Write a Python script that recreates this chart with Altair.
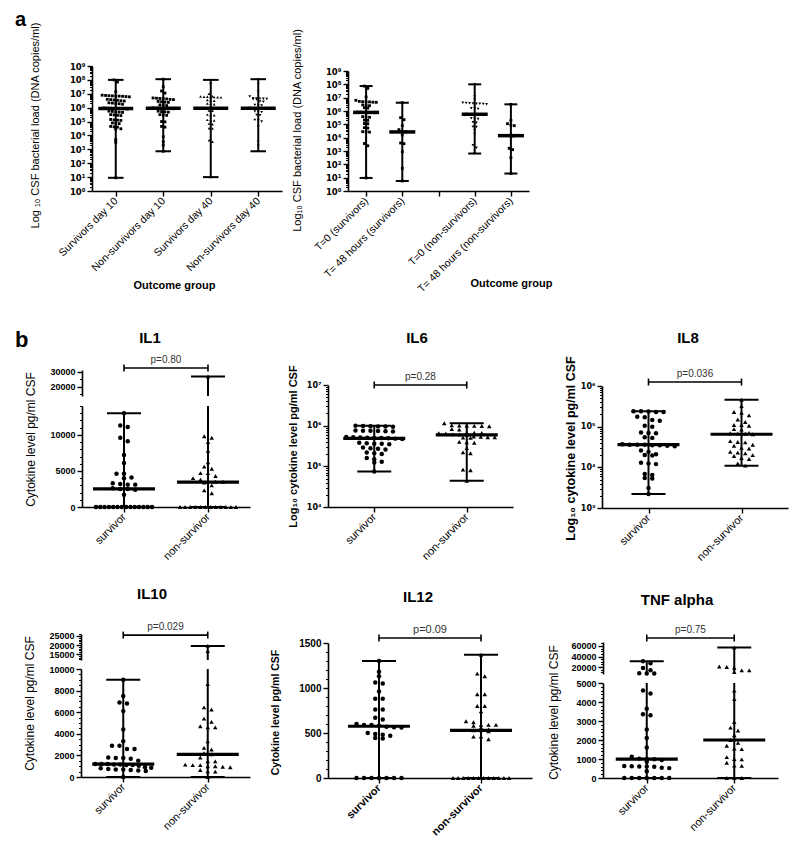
import json
import altair as alt
import numpy as np
import pandas as pd

# ---------------------------------------------------------------- data
# Panel a (left) - log10 CSF bacterial load (DNA copies/ml)
A1_GROUPS = ["Survivors day 10", "Non-survivors day 10", "Survivors day 40", "Non-survivors day 40"]
A1_SURV_D10_LOG = [8.0, 7.85, 7.15, 6.9, 6.88, 6.86, 6.85, 6.84, 6.83, 6.82, 6.8, 6.78, 6.6, 6.58, 6.55,
                   6.53, 6.5, 6.48, 6.35, 6.33, 6.3, 6.28, 6.25, 5.98, 5.97, 5.96, 5.95, 5.94, 5.93, 5.92,
                   5.9, 5.75, 5.73, 5.7, 5.68, 5.66, 5.5, 5.48, 5.45, 5.43, 5.15, 5.12, 5.1, 5.08, 4.9,
                   4.88, 4.85, 4.65, 4.62, 4.6, 4.48, 4.45, 3.7, 3.5, 0.95]
A1_NONSURV_D10_LOG = [8.05, 7.5, 7.2, 7.05, 6.7, 6.68, 6.66, 6.65, 6.63, 6.6, 6.58, 6.45, 6.43, 6.4, 6.38,
                      6.2, 6.18, 6.15, 5.98, 5.97, 5.96, 5.95, 5.94, 5.93, 5.92, 5.75, 5.72, 5.7, 5.68,
                      5.5, 5.47, 5.45, 5.0, 4.98, 4.65, 4.6, 3.9, 3.55, 3.3, 2.86]
A1_SURV_D40_LOG = [8.0, 7.8, 7.0, 6.82, 6.8, 6.79, 6.78, 6.77, 6.76, 6.75, 6.74, 6.55, 6.53, 6.5, 6.3,
                   6.28, 6.25, 5.98, 5.97, 5.96, 5.95, 5.94, 5.93, 5.92, 5.8, 5.78, 5.5, 5.47, 5.45,
                   5.12, 5.1, 5.08, 4.85, 4.8, 4.52, 4.5, 3.65, 3.55, 1.0]
A1_NONSURV_D40_LOG = [8.05, 7.7, 7.15, 6.8, 6.68, 6.66, 6.65, 6.64, 6.62, 6.6, 6.58, 6.45, 6.43, 6.2,
                      6.18, 6.16, 5.97, 5.96, 5.95, 5.94, 5.93, 5.92, 5.72, 5.7, 5.68, 5.48, 5.46,
                      5.12, 5.1, 5.0, 4.65, 3.55, 3.25, 2.86]

# Panel a (right)
A2_GROUPS = ["T=0 (survivors)", "T= 48 hours (survivors)", "", "T=0 (non-survivors)",
             "T= 48 hours (non-survivors)"]
A2_T0_SURV_LOG = [7.87, 7.7, 7.05, 6.8, 6.72, 6.7, 6.69, 6.68, 6.66, 6.65, 6.45, 6.43, 6.4, 6.25, 6.22,
                  5.92, 5.91, 5.9, 5.89, 5.88, 5.87, 5.58, 5.55, 5.53, 5.32, 5.3, 5.06, 5.04, 4.75,
                  4.72, 4.45, 4.43, 4.42, 3.56, 3.39, 0.98]
A2_T48_SURV_LOG = [6.62, 5.5, 5.35, 4.9, 4.6, 4.45, 4.43, 4.2, 3.6, 3.55, 2.95, 1.7, 0.75]
A2_T0_NONSURV_LOG = [8.0, 7.1, 6.85, 6.62, 6.6, 6.58, 6.57, 6.55, 6.54, 6.52, 6.5, 6.2, 6.18, 6.16,
                     5.77, 5.76, 5.75, 5.74, 5.73, 5.72, 5.45, 5.43, 5.4, 5.15, 5.12, 4.82, 4.8, 4.55,
                     4.27, 3.43, 3.25, 2.81]
A2_T48_NONSURV_LOG = [6.5, 5.3, 5.05, 4.95, 4.9, 4.15, 4.13, 3.2, 3.1, 2.5, 1.31]

# Panel b - cytokine levels (pg/ml CSF)
CYTO_GROUPS = ["survivor", "non-survivor"]
IL1_SURV = [13000, 11300, 11100, 9600, 9100, 7200, 6100, 4600, 4600, 4100, 4000, 3300, 3200, 3100, 3100,
            2600, 2500, 2500, 2400, 1700] + [0] * 14
IL1_NONSURV = [27000, 9800, 9600, 9000, 7800, 6200, 5600, 5300, 4700, 4700, 4300, 4000, 3800, 3600,
               3500, 3500, 3400, 3000, 2300, 1900] + [0] * 12
IL6_SURV = [1.0e6, 9.8e5, 9.6e5, 9.5e5, 9.7e5, 9.4e5, 7.6e5, 7.5e5, 7.4e5, 7.3e5, 7.2e5, 7.5e5, 5.3e5,
            5.2e5, 5.1e5, 5.05e5, 5.0e5, 4.95e5, 4.9e5, 4.8e5, 4.7e5, 3.8e5, 3.7e5, 3.6e5, 3.6e5, 3.5e5,
            2.9e5, 2.8e5, 2.7e5, 2.6e5, 2.2e5, 2.1e5, 2.0e5, 1.6e5, 1.5e5, 1.3e5, 1.25e5, 7.5e4]
IL6_NONSURV = [1.15e6, 1.02e6, 1.0e6, 0.99e6, 0.98e6, 1.01e6, 0.97e6, 8.2e5, 8.0e5, 6.8e5, 6.7e5, 6.6e5,
               6.5e5, 6.4e5, 6.1e5, 6.0e5, 5.9e5, 5.4e5, 5.3e5, 5.2e5, 5.2e5, 5.1e5, 5.0e5, 4.0e5, 3.9e5,
               3.8e5, 2.8e5, 2.2e5, 2.1e5, 8.3e4, 8.0e4, 4.4e4]
IL8_SURV = [2.4e5, 2.35e5, 2.3e5, 2.3e5, 2.4e5, 1.75e5, 1.7e5, 1.45e5, 1.4e5, 1.05e5, 1.0e5, 7.2e4, 7.0e4,
            6.9e4, 5.5e4, 5.3e4, 3.7e4, 3.6e4, 3.6e4, 3.6e4, 3.5e4, 3.5e4, 3.4e4, 3.3e4, 2.6e4, 2.4e4,
            2.1e4, 2.0e4, 1.95e4, 1.3e4, 1.25e4, 1.2e4, 6.9e3, 6.5e3, 5.5e3, 5.3e3, 3.1e3, 2.2e3]
IL8_NONSURV = [4.6e5, 3.2e5, 2.3e5, 2.2e5, 1.9e5, 1.5e5, 1.3e5, 1.1e5, 1.1e5, 1.05e5, 8.7e4, 8.5e4,
               7.0e4, 6.9e4, 6.7e4, 6.5e4, 6.8e4, 4.4e4, 4.2e4, 4.1e4, 3.6e4, 3.4e4, 3.0e4, 2.9e4,
               2.4e4, 2.3e4, 2.2e4, 2.0e4, 1.9e4, 1.7e4, 1.6e4, 1.25e4, 1.1e4]
IL10_SURV = [9000, 7500, 6900, 6800, 6100, 4400, 3300, 2900, 2900, 2600, 2600, 1800, 1750, 1750, 1700,
             1500, 1200, 1200, 1200, 1150, 1150, 1100, 1100, 1050, 900, 850, 800, 750, 700, 700, 650,
             600, 550, 0]
IL10_NONSURV = [19500, 16700, 8600, 6450, 6250, 5400, 5100, 4700, 4600, 4600, 3300, 2700, 2550, 2200,
                2100, 1800, 1450, 1450, 1150, 1100, 1100, 1000, 1000, 950, 900, 650, 520, 500, 0]
IL12_SURV = [1300, 1180, 1130, 1060, 1050, 960, 880, 880, 760, 760, 670, 650, 600, 590, 590, 580, 570,
             565, 560, 500, 490, 480, 470, 445, 440] + [0] * 7
IL12_NONSURV = [1370, 1160, 1130, 930, 930, 800, 800, 740, 630, 620, 590, 590, 590, 580, 560, 540, 530,
                530, 520, 460, 460, 430] + [0] * 12
TNF_SURV = [31000, 27000, 18000, 14000, 8000, 7800, 7600, 4600, 4450, 3650, 3350, 3300, 2550, 2100, 1600,
            1120, 1020, 1000, 990, 950, 850, 630, 620, 610, 600, 590, 540, 520, 350] + [0] * 7
TNF_NONSURV = [57000, 21000, 20000, 18700, 13500, 13500, 10500, 4600, 4150, 2950, 2650, 2500, 2250, 2000,
               1850, 1700, 1550, 1520, 1100, 1000, 980, 800, 660, 640, 0, 0, 0]

P_VALUES = {"IL1": "p=0.80", "IL6": "p=0.28", "IL8": "p=0.036",
            "IL10": "p=0.029", "IL12": "p=0.09", "TNF": "p=0.75"}

# ---------------------------------------------------------------- layout
W, H = 784, 830
FONT = "Liberation Sans"
SUP_FONT = "DejaVu Sans"
SUP = ["⁰", "¹", "²", "³", "⁴", "⁵", "⁶", "⁷", "⁸", "⁹"]
POW_EXPR = "'10' + " + json.dumps(SUP, ensure_ascii=False) + "[round(log(datum.value)/LN10)]"


def to_px(v, dom, rng, log):
    v = np.asarray(v, dtype=float)
    if log:
        t = (np.log10(v) - np.log10(dom[0])) / (np.log10(dom[1]) - np.log10(dom[0]))
    else:
        t = (v - dom[0]) / (dom[1] - dom[0])
    return rng[0] + t * (rng[1] - rng[0])


def from_px(p, dom, rng, log):
    t = (p - rng[0]) / (rng[1] - rng[0])
    if log:
        return float(10 ** (np.log10(dom[0]) + t * (np.log10(dom[1]) - np.log10(dom[0]))))
    return float(dom[0] + t * (dom[1] - dom[0]))


def swarm(ypix, binh, s0, wmax):
    """GraphPad-like scatter: points within one row height are spread horizontally."""
    ypix = np.asarray(ypix, dtype=float)
    order = np.argsort(ypix, kind="stable")
    offs = np.zeros(len(ypix))
    rows, cur = [], []
    for i in order:
        if cur and ypix[i] - ypix[cur[0]] > binh:
            rows.append(cur)
            cur = []
        cur.append(i)
    if cur:
        rows.append(cur)
    for row in rows:
        k = len(row)
        s = s0 if k < 2 else min(s0, wmax / (k - 1))
        for j, i in enumerate(row):
            offs[i] = (j - (k - 1) / 2) * s
    return offs


def log_minor(k0, k1):
    return [m * 10 ** k for k in range(k0, k1) for m in range(2, 10)]


def build_panel(P):
    groups = P["groups"]
    ng = len(groups)
    x0, x1 = P["xr"]
    band = (x1 - x0) / ng
    xsc = alt.Scale(domain=[-0.5, ng - 0.5], range=[x0, x1], nice=False, zero=False)
    segs = P["segs"]
    nseg = len(segs)
    bounds = [-np.inf] + [segs[i]["dom"][1] for i in range(nseg - 1)] + [np.inf]
    binh, s0, wmax = P["swarm"]
    yb = segs[0]["rng"][0]

    xkw = dict(
        orient="bottom", offset=yb - H, values=list(range(ng)),
        labelExpr=json.dumps(groups) + "[datum.value]",
        labelAngle=-45, labelAlign="right", labelBaseline="middle", labelPadding=3,
        labelFont=FONT, labelFontSize=P["xl_size"], labelFontWeight=P["xl_weight"], labelColor="black",
        labelOverlap=False, labelFlush=False, labelBound=False, labelLimit=300,
        tickSize=5, tickWidth=1.4, tickColor="black", domainColor="black", domainWidth=1.6,
        grid=False)
    if P.get("xtitle"):
        xkw.update(title=P["xtitle"][0], titleX=P["xtitle"][1], titleY=P["xtitle"][2] - yb,
                   titleFont=FONT, titleFontSize=11, titleFontWeight="bold", titleColor="black",
                   titleBaseline="middle", titleAlign="center", titleAngle=0)
    else:
        xkw["title"] = None
    xaxis = alt.Axis(**xkw)
    X = alt.X("x:Q", scale=xsc, axis=xaxis)

    seg_charts = []
    for si, S in enumerate(segs):
        log, dom, rng = S["log"], S["dom"], S["rng"]
        ysc = alt.Scale(type="log" if log else "linear", domain=list(dom), range=list(rng),
                        nice=False, zero=False)
        lo_b, hi_b = bounds[si], bounds[si + 1]

        def inside(val):
            return lo_b < val <= hi_b

        pts, vls, caps, meds = [], [], [], []
        for gi, vals in enumerate(P["series"]):
            if vals is None:
                continue
            v = np.asarray(vals, dtype=float)
            vmin, vmax, vmed = float(v.min()), float(v.max()), float(np.median(v))
            sel = v[(v > lo_b) & (v <= hi_b)]
            if len(sel):
                offs = swarm(to_px(sel, dom, rng, log), binh, s0, wmax)
                for val, o in zip(sel, offs):
                    pts.append({"x": gi + o / band, "v": float(val), "shape": P["shapes"][gi]})
            lo = vmin if si == 0 else max(vmin, dom[0])
            hi = vmax if si == nseg - 1 else min(vmax, dom[1])
            if hi > lo:
                vls.append({"x": gi, "v": lo, "v2": hi})
            for val in (vmin, vmax):
                if inside(val):
                    caps.append({"x": gi - P["cap"] / band, "x2": gi + P["cap"] / band, "v": val})
            if inside(vmed):
                meds.append({"x": gi - P["med"] / band, "x2": gi + P["med"] / band, "v": vmed})

        Y = alt.Y("v:Q", scale=ysc, axis=None)
        layers = []
        if vls:
            layers.append(alt.Chart(pd.DataFrame(vls)).mark_rule(color="black", strokeWidth=P["rule_w"])
                          .encode(x=X, y=Y, y2="v2:Q"))
        if caps:
            layers.append(alt.Chart(pd.DataFrame(caps)).mark_rule(color="black", strokeWidth=P["rule_w"])
                          .encode(x=X, x2="x2:Q", y=Y))
        if meds:
            layers.append(alt.Chart(pd.DataFrame(meds)).mark_rule(color="black", strokeWidth=P["med_w"])
                          .encode(x=X, x2="x2:Q", y=Y))
        if pts:
            layers.append(alt.Chart(pd.DataFrame(pts))
                          .mark_point(filled=True, color="black", opacity=1, size=P["pt_size"], strokeWidth=0)
                          .encode(x=X, y=Y, shape=alt.Shape("shape:N", scale=None)))
        if si == nseg - 1 and P.get("bracket"):
            bv, txt, tsize = P["bracket"]
            bp = float(to_px(bv, dom, rng, log))
            c_lo, c_hi = from_px(bp + 3.5, dom, rng, log), from_px(bp - 3.5, dom, rng, log)
            layers.append(alt.Chart(pd.DataFrame([{"x": 0, "x2": 1, "v": bv}]))
                          .mark_rule(color="black", strokeWidth=1.6).encode(x=X, x2="x2:Q", y=Y))
            layers.append(alt.Chart(pd.DataFrame([{"x": 0, "v": c_lo, "v2": c_hi},
                                                  {"x": 1, "v": c_lo, "v2": c_hi}]))
                          .mark_rule(color="black", strokeWidth=1.6).encode(x=X, y=Y, y2="v2:Q"))
            layers.append(alt.Chart(pd.DataFrame([{"x": 0.5, "v": bv, "t": txt}]))
                          .mark_text(dy=-8, fontSize=tsize, color="#333333", font=FONT,
                                     baseline="middle", align="center")
                          .encode(x=X, y=Y, text="t:N"))

        # y axes (major with labels, minor ticks only)
        ykw = dict(orient="left", offset=-x0, values=S["ticks"], grid=False,
                   labelFont=SUP_FONT if log else FONT,
                   labelFontSize=P["yl_size"] - (1 if log else 0),
                   labelFontWeight="bold", labelColor="black",
                   labelPadding=2, labelOverlap=False, labelFlush=False, labelBound=False,
                   tickSize=5, tickWidth=1.4, tickColor="black", domainColor="black", domainWidth=1.6)
        if log:
            ykw["labelExpr"] = POW_EXPR
        else:
            ykw["format"] = "d"
        if si == 0:
            ykw.update(title=P["ytitle"], titleX=P["yt_xy"][0] - x0, titleY=P["yt_xy"][1],
                       titleAngle=270, titleBaseline="middle", titleAlign="center", titleFont=FONT,
                       titleFontSize=P["yt_size"], titleFontWeight=P["yt_weight"], titleColor="black")
        else:
            ykw["title"] = None
        ddom = pd.DataFrame({"x": [-0.5, ng - 0.5], "v": list(dom)})
        layers.append(alt.Chart(ddom).mark_point(opacity=0).encode(
            x=X, y=alt.Y("v:Q", scale=ysc, axis=alt.Axis(**ykw))))
        if S.get("minor"):
            mkw = dict(orient="left", offset=-x0, values=S["minor"], labels=False, domain=False,
                       tickSize=2.5, tickWidth=1, tickColor="black", grid=False, title=None)
            layers.append(alt.Chart(ddom).mark_point(opacity=0).encode(
                x=X, y=alt.Y("v:Q", scale=ysc, axis=alt.Axis(**mkw))))
        seg_charts.append(alt.layer(*layers).resolve_axis(y="independent"))

    if nseg == 1:
        return seg_charts[0]
    return alt.layer(*seg_charts).resolve_scale(y="independent")


def logs(a):
    return list(10 ** np.asarray(a, dtype=float))


A_COMMON = dict(xl_size=10.5, xl_weight="normal", yl_size=9.5, pt_size=8, rule_w=2, med_w=3.5)
C_COMMON = dict(xl_size=11, xl_weight="normal", yl_size=9, pt_size=20, swarm=(4.0, 7.5, 56),
                cap=17, med=31, rule_w=2, med_w=3.2)
CIRC_TRI = ["circle", "triangle-up"]

panels = [
    dict(A_COMMON, groups=A1_GROUPS,
         series=[logs(A1_SURV_D10_LOG), logs(A1_NONSURV_D10_LOG), logs(A1_SURV_D40_LOG),
                 logs(A1_NONSURV_D40_LOG)],
         shapes=["square", "square", "triangle-up", "triangle-down"], xr=(84, 274),
         segs=[dict(dom=(1, 1e9), rng=(183, 58), log=True, ticks=[10 ** k for k in range(10)],
                    minor=log_minor(0, 9))],
         ytitle="Log ₁₀ CSF bacterial load  (DNA copies/ml)", yt_xy=(27, 117), yt_size=11,
         yt_weight="normal", xtitle=("Outcome group", 166, 277),
         swarm=(2.5, 3.4, 30), cap=7.8, med=17.5),
    dict(A_COMMON, groups=A2_GROUPS,
         series=[logs(A2_T0_SURV_LOG), logs(A2_T48_SURV_LOG), None, logs(A2_T0_NONSURV_LOG),
                 logs(A2_T48_NONSURV_LOG)],
         shapes=["square", "square", None, "triangle-down", "square"], xr=(340, 521),
         segs=[dict(dom=(1, 1e9), rng=(183, 63), log=True, ticks=[10 ** k for k in range(10)],
                    minor=log_minor(0, 9))],
         ytitle="Log₁₀ CSF bacterial load (DNA copies/ml)", yt_xy=(289, 122), yt_size=11,
         yt_weight="normal", xtitle=("Outcome group", 503, 275),
         swarm=(2.5, 3.4, 24), cap=6.5, med=13),
    dict(C_COMMON, groups=CYTO_GROUPS, series=[IL1_SURV, IL1_NONSURV], shapes=CIRC_TRI, xr=(74, 242),
         segs=[dict(dom=(0, 14000), rng=(499, 398), log=False, ticks=[0, 5000, 10000],
                    minor=list(range(1000, 14001, 1000))),
               dict(dom=(14000, 31333), rng=(388, 362), log=False, ticks=[20000, 30000],
                    minor=[15000, 25000])],
         ytitle="Cytokine level pg/ml CSF", yt_xy=(22, 431), yt_size=12, yt_weight="normal",
         bracket=(32700, P_VALUES["IL1"], 10)),
    dict(C_COMMON, groups=CYTO_GROUPS, series=[IL6_SURV, IL6_NONSURV], shapes=CIRC_TRI, xr=(320, 505),
         segs=[dict(dom=(1e4, 1e7), rng=(499, 377), log=True, ticks=[1e4, 1e5, 1e6, 1e7],
                    minor=log_minor(4, 7))],
         ytitle="Log₁₀ cytokine level pg/ml CSF", yt_xy=(285, 438), yt_size=11, yt_weight="bold",
         bracket=(1e7, P_VALUES["IL6"], 10)),
    dict(C_COMMON, groups=CYTO_GROUPS, series=[IL8_SURV, IL8_NONSURV], shapes=CIRC_TRI, xr=(594, 780),
         segs=[dict(dom=(1e3, 1e6), rng=(500, 378), log=True, ticks=[1e3, 1e4, 1e5, 1e6],
                    minor=log_minor(3, 6))],
         ytitle="Log₁₀ cytokine level pg/ml CSF", yt_xy=(562, 440), yt_size=12.5, yt_weight="bold",
         bracket=(1.25e6, P_VALUES["IL8"], 10)),
    dict(C_COMMON, groups=CYTO_GROUPS, series=[IL10_SURV, IL10_NONSURV], shapes=CIRC_TRI, xr=(73, 242),
         segs=[dict(dom=(0, 10000), rng=(769, 661), log=False, ticks=list(range(0, 10001, 2000)),
                    minor=list(range(500, 10000, 500))),
               dict(dom=(11700, 26100), rng=(652, 626), log=False, ticks=[15000, 20000, 25000],
                    minor=list(range(12000, 26001, 1000)))],
         ytitle="Cytokine level pg/ml CSF", yt_xy=(21, 695), yt_size=12, yt_weight="normal",
         bracket=(25500, P_VALUES["IL10"], 10)),
    dict(C_COMMON, groups=CYTO_GROUPS, series=[IL12_SURV, IL12_NONSURV], shapes=CIRC_TRI, xr=(320, 524),
         segs=[dict(dom=(0, 1500), rng=(770, 635), log=False, ticks=[0, 500, 1000, 1500],
                    minor=list(range(100, 1500, 100)))],
         ytitle="Cytokine level pg/ml CSF", yt_xy=(267, 704), yt_size=10.5, yt_weight="bold",
         bracket=(1555, P_VALUES["IL12"], 11)),
    dict(C_COMMON, groups=CYTO_GROUPS, series=[TNF_SURV, TNF_NONSURV], shapes=CIRC_TRI, xr=(595, 770),
         segs=[dict(dom=(0, 5000), rng=(770, 675), log=False, ticks=list(range(0, 5001, 1000)),
                    minor=list(range(200, 5000, 200))),
               dict(dom=(6700, 67600), rng=(666, 634), log=False, ticks=[20000, 40000, 60000],
                    minor=list(range(10000, 67600, 5000)))],
         ytitle="Cytokine level pg/ml CSF", yt_xy=(545, 704), yt_size=12, yt_weight="normal",
         bracket=(75200, P_VALUES["TNF"], 10)),
]
panels[6]["xl_weight"] = "bold"
panels[6]["yl_size"] = 10

# panel labels and titles (layout text)
TITLES = [("a", 7, 18, 20, "left", "alphabetic"), ("b", 7, 339, 22, "left", "alphabetic"),
          ("IL1", 142, 330, 15, "center", "middle"), ("IL6", 409, 330, 15, "center", "middle"),
          ("IL8", 680, 330, 15, "center", "middle"), ("IL10", 144, 586, 15, "center", "middle"),
          ("IL12", 410, 589, 15, "center", "middle"), ("TNF alpha", 669, 592, 15, "center", "middle")]

layers = [build_panel(p) for p in panels]
for txt, tx, ty, fs, al, bl in TITLES:
    layers.append(alt.Chart(pd.DataFrame({"t": [txt]})).mark_text(
        x=tx, y=ty, fontSize=fs, fontWeight="bold", font=FONT, align=al, baseline=bl, color="black"
    ).encode(text="t:N"))

chart = (alt.layer(*layers)
         .resolve_scale(x="independent", y="independent")
         .properties(width=W, height=H, padding=0, autosize=alt.AutoSizeParams(type="none"),
                     background="white")
         .configure(font=FONT)
         .configure_view(stroke=None))

chart.save("out.html", embed_options={"renderer": "svg", "actions": False})
